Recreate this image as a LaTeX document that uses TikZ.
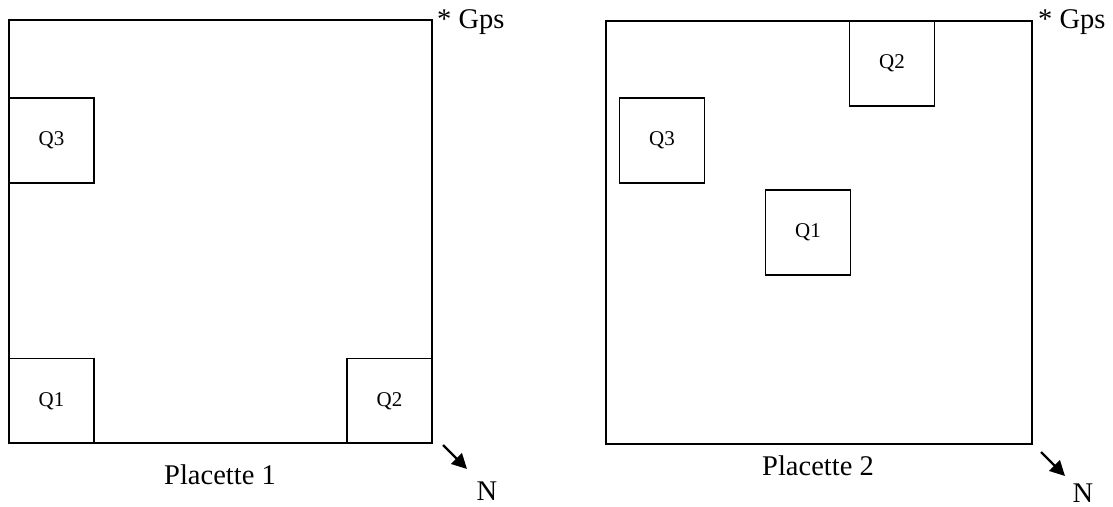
\documentclass[tikz,border=0pt]{standalone}
\usepackage{fontspec}
\setmainfont{Liberation Serif}
\usetikzlibrary{arrows.meta}
\begin{document}
\begin{tikzpicture}[x=1pt,y=-1pt,
  plot/.style={draw=black,line width=1.6pt,inner sep=0pt,outer sep=0pt,minimum width=423pt,minimum height=423pt},
  quad/.style={draw=black,line width=1.6pt,inner sep=0pt,outer sep=0pt,minimum width=85pt,minimum height=85pt,font=\fontsize{21}{23}\selectfont},
  lbl/.style={inner sep=0pt,font=\fontsize{28.5}{30}\selectfont},
  northarrow/.style={line width=2.2pt,-{Triangle[length=15pt,width=15pt]}}]
\useasboundingbox (0,0) rectangle (1113,506);
% Placette 1
\node[plot] (P1) at (220.5,231.5) {};
\node[quad] (P1Q3) at (51.5,140.5) {Q3};
\node[quad] (P1Q1) at (51.5,401) {Q1};
\node[quad] (P1Q2) at (389.5,401) {Q2};
\node[lbl,anchor=base] (P1lab) at (220,484) {Placette 1};
\node[lbl,anchor=base west] (P1gps) at (437,28) {* Gps};
\node[lbl,anchor=base] (P1N) at (487,500) {N};
\coordinate (A1s) at (443,445);
\coordinate (A1e) at (467,469);
\draw[northarrow] (A1s) -- (A1e);
% Placette 2
\node[plot,minimum width=426pt] (P2) at (819,232.5) {};
\node[quad] (P2Q2) at (892,63.5) {Q2};
\node[quad] (P2Q3) at (662,140.5) {Q3};
\node[quad] (P2Q1) at (808,232.5) {Q1};
\node[lbl,anchor=base] (P2lab) at (818,475) {Placette 2};
\node[lbl,anchor=base west] (P2gps) at (1038,28) {* Gps};
\node[lbl,anchor=base] (P2N) at (1083,502) {N};
\coordinate (A2s) at (1041,452);
\coordinate (A2e) at (1065,476);
\draw[northarrow] (A2s) -- (A2e);
\end{tikzpicture}
\end{document}
